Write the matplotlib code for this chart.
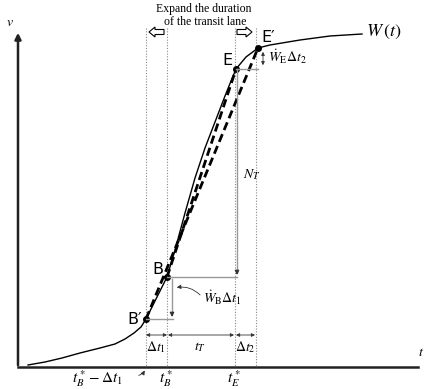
import matplotlib.pyplot as plt
from matplotlib.patches import FancyArrow

plt.rcParams['mathtext.fontset'] = 'stix'

# curve W(t) (pixel-like units, y grows downward)
curve_t = [28, 45, 62, 80, 100, 115, 125, 134, 141, 146, 155, 167, 175, 185, 195, 205, 215, 225, 231, 236, 246, 258, 270, 300, 330, 362]
curve_w = [365, 362, 358, 353, 348, 344, 339, 333, 327, 319, 301, 277, 250, 213, 178, 148, 122, 96, 81, 69, 57, 48, 45, 40, 36, 34]

# key points
pts = {"B'": (146, 319), "B": (167, 277), "E": (236, 69), "E'": (258, 48)}
vlines_t = [146, 167, 235, 256]
axis_y0 = 367

fig = plt.figure(figsize=(4.3, 3.89), dpi=100)
ax = fig.add_axes([0, 0, 1, 1])
ax.set_xlim(0, 430)
ax.set_ylim(389, 0)
ax.axis('off')

# axes
ax.annotate('', xy=(18, 30), xytext=(18, axis_y0 + 1),
            arrowprops=dict(arrowstyle='-|>', lw=1.8, color='#222222', mutation_scale=9))
ax.plot([18, 418], [axis_y0, axis_y0], color='#222222', lw=1.8)
ax.text(10, 22, '$v$', fontsize=10, ha='center', va='center')
ax.text(421, 352, '$t$', fontsize=10, ha='center', va='center')

# dotted guides
for x in vlines_t:
    ax.plot([x, x], [28, axis_y0], color='#888888', lw=0.8, ls=(0, (1, 1.5)))

# curve
ax.plot(curve_t, curve_w, color='black', lw=1.0)
ax.text(366, 32, '$W\\,(t)$', fontsize=13, ha='left', va='center')

# dashed chords
bx, by = pts['B']
bpx, bpy = pts["B'"]
ex, ey = pts['E']
epx, epy = pts["E'"]
ax.plot([bx, ex], [by, ey], color='black', lw=2.0, ls=(0, (3, 1.6)))
ax.plot([bpx, epx], [bpy, epy], color='black', lw=2.0, ls=(0, (3, 1.6)))

for name, (x, y) in pts.items():
    ax.plot(x, y, 'o', color='black', ms=4)
ax.text(bpx - 4, bpy, "B\u2032", fontsize=11.5, ha='right', va='center')
ax.text(bx - 4, by - 8, 'B', fontsize=11.5, ha='right', va='center')
ax.text(ex - 3, ey - 9, 'E', fontsize=11.5, ha='right', va='center')
ax.text(epx + 3, epy - 11, "E\u2032", fontsize=11.5, ha='left', va='center')

gray = '#999999'
arr = dict(arrowstyle='-|>', color='#333333', lw=0.9, mutation_scale=6, shrinkA=0, shrinkB=0)
# horizontal gray guides
ax.plot([bpx, 173], [bpy, bpy], color=gray, lw=1.0)
ax.plot([bx, 237], [by, by], color=gray, lw=1.0)
ax.plot([ex, epx], [ey, ey], color=gray, lw=1.0)
# vertical gray arrows
ax.plot([172, 172], [279, bpy - 4], color=gray, lw=1.0)
ax.annotate('', xy=(172, bpy - 2), xytext=(172, bpy - 6), arrowprops=arr)
ax.plot([237, 237], [ey, by - 4], color=gray, lw=1.0)
ax.annotate('', xy=(237, by - 2), xytext=(237, by - 6), arrowprops=arr)
ax.annotate('', xy=(263, 68), xytext=(263, 49),
            arrowprops=dict(arrowstyle='<|-|>', color='#333333', lw=0.6, mutation_scale=5))
ax.text(243, 175, '$N_T$', fontsize=10, ha='left', va='center')
ax.text(268, 57, '$\\dot{W}_{\\mathrm{E}}\\Delta t_2$', fontsize=10, ha='left', va='center')
ax.text(203, 298, '$\\dot{W}_{\\mathrm{B}}\\Delta t_1$', fontsize=10, ha='left', va='center')
ax.annotate('', xy=(174, 288), xytext=(202, 297),
            arrowprops=dict(arrowstyle='-|>', color='#333333', lw=0.6, mutation_scale=6,
                            connectionstyle='arc3,rad=0.3'))

# duration arrows
dur = dict(arrowstyle='<|-|>', color='#333333', lw=0.6, mutation_scale=5, shrinkA=0, shrinkB=0)
ax.annotate('', xy=(146, 335), xytext=(167, 335), arrowprops=dur)
ax.annotate('', xy=(168, 335), xytext=(234, 335), arrowprops=dur)
ax.annotate('', xy=(236, 335), xytext=(255, 335), arrowprops=dur)
ax.text(156, 347, '$\\Delta t_1$', fontsize=10, ha='center', va='center')
ax.text(200, 347, '$t_T$', fontsize=10, ha='center', va='center')
ax.text(245, 347, '$\\Delta t_2$', fontsize=10, ha='center', va='center')

# bottom tick labels
ax.text(98, 379, '$t_B^* - \\Delta t_1$', fontsize=11, ha='center', va='center')
ax.annotate('', xy=(146, 368), xytext=(136, 376),
            arrowprops=dict(arrowstyle='-|>', color='#333333', lw=0.6, mutation_scale=6,
                            connectionstyle='arc3,rad=0.3'))
ax.text(166, 379, '$t_B^*$', fontsize=11, ha='center', va='center')
ax.text(234, 379, '$t_E^*$', fontsize=11, ha='center', va='center')

# title
ax.text(204, 9, 'Expand the duration', fontsize=8.5, family='Liberation Serif', ha='center', va='center')
ax.text(205, 22, 'of the transit lane', fontsize=8.5, family='Liberation Serif', ha='center', va='center')
ax.add_patch(FancyArrow(164, 32, -15, 0, width=5, head_width=10, head_length=6,
                        length_includes_head=True, fc='white', ec='black', lw=0.8))
ax.add_patch(FancyArrow(237, 32, 15, 0, width=5, head_width=10, head_length=6,
                        length_includes_head=True, fc='white', ec='black', lw=0.8))

fig.savefig('out.png', dpi=100)
